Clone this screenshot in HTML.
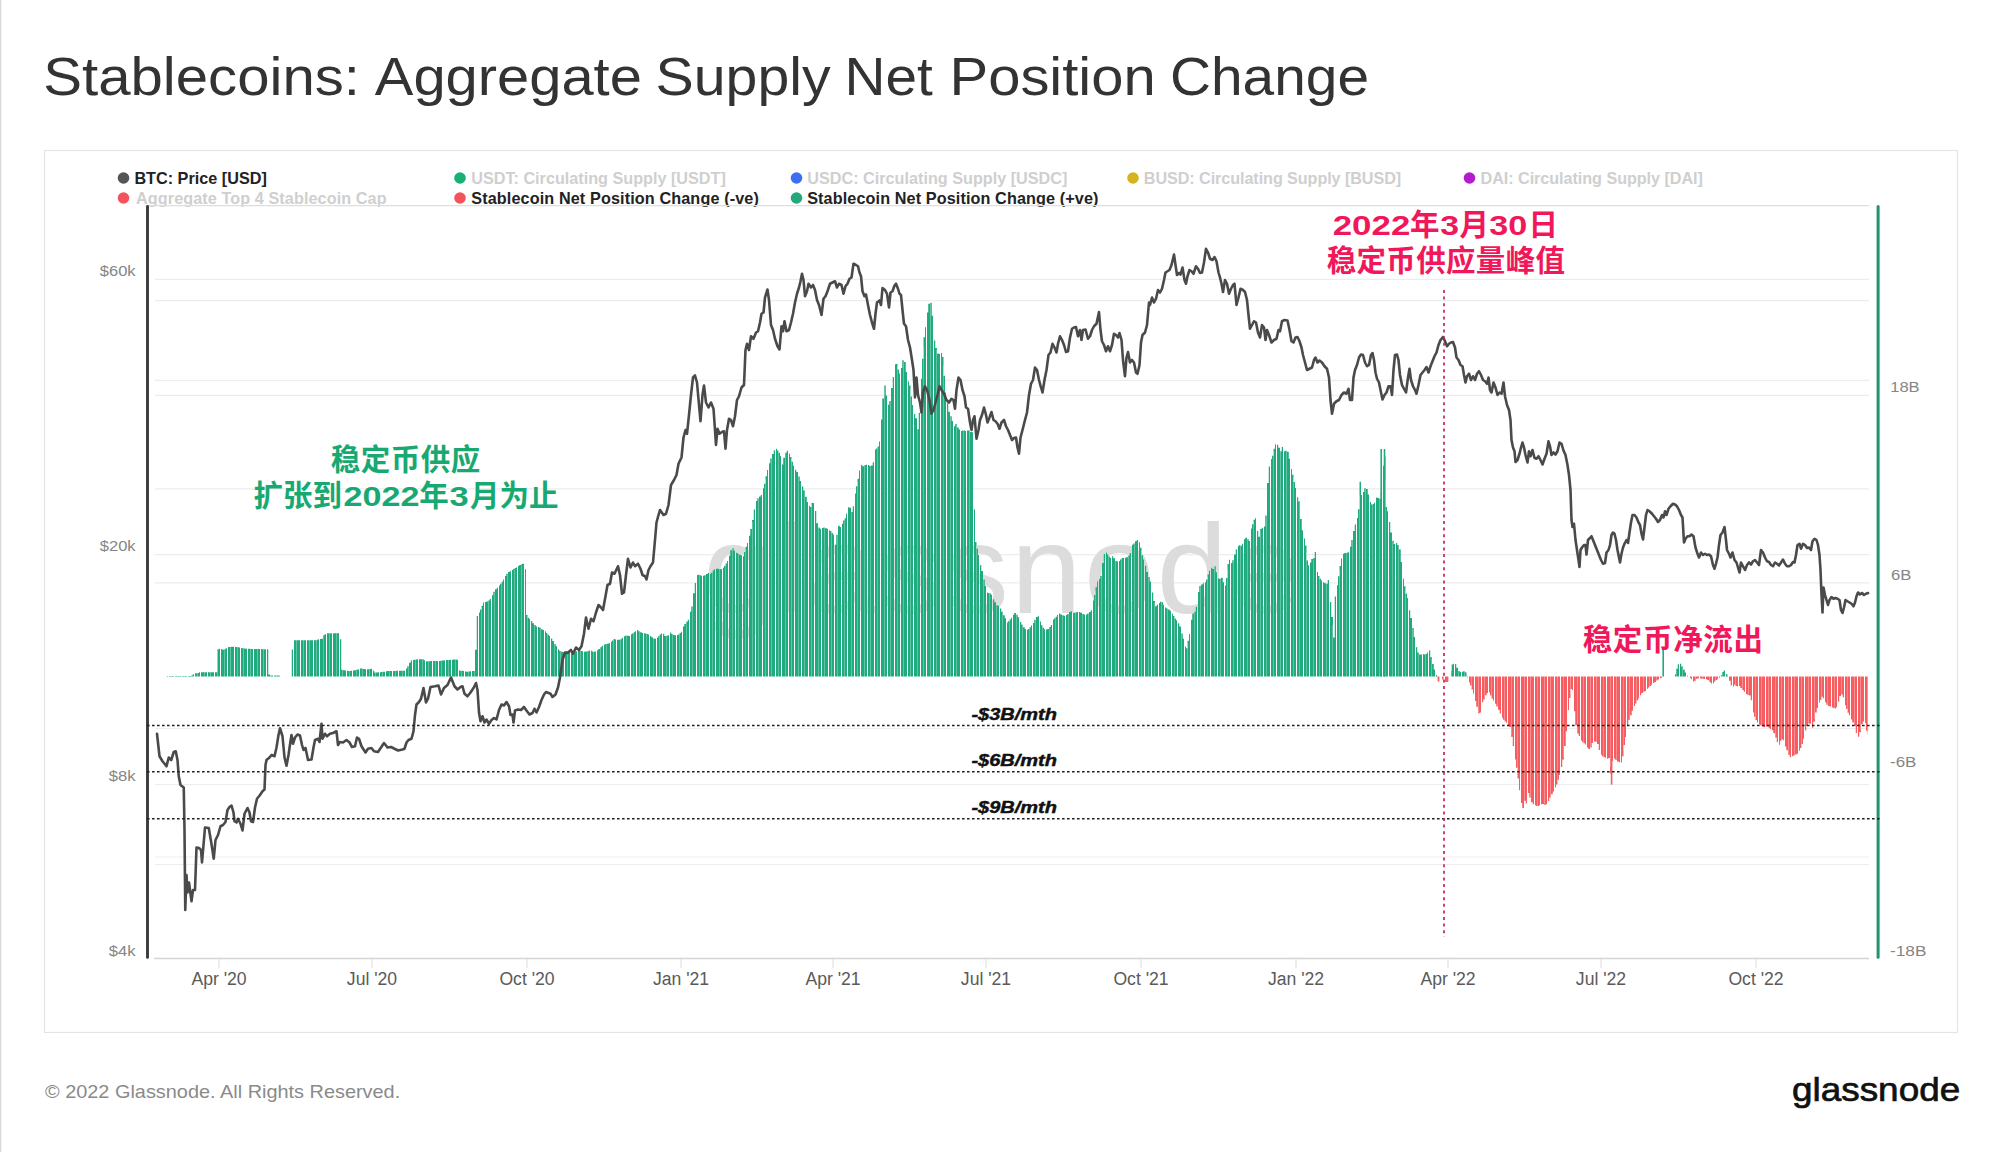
<!DOCTYPE html>
<html lang="en">
<head>
<meta charset="utf-8">
<title>Stablecoins: Aggregate Supply Net Position Change</title>
<style>
html,body{margin:0;padding:0;background:#fff;}
body{width:2000px;height:1152px;position:relative;overflow:hidden;font-family:"Liberation Sans","Noto Sans CJK SC",sans-serif;}
.edge{position:absolute;left:0;top:0;width:2px;height:1152px;background:linear-gradient(90deg,#d9d9d9 0,#d9d9d9 1px,#f1f1f1 1px,#f1f1f1 2px);}
svg.chart{position:absolute;left:0;top:0;}
</style>
</head>
<body>
<div class="edge"></div>
<svg class="chart" width="2000" height="1152" viewBox="0 0 2000 1152" font-family="'Liberation Sans','Noto Sans CJK SC',sans-serif">
<rect x="44.5" y="150.5" width="1913" height="881.9" fill="#fff" stroke="#e3e3e3" stroke-width="1.1"/>
<!-- title -->
<text y="95" font-size="53.5" fill="#333"><tspan x="43.2" textLength="316.8" lengthAdjust="spacingAndGlyphs">Stablecoins:</tspan> <tspan x="374.8" textLength="267.1" lengthAdjust="spacingAndGlyphs">Aggregate</tspan> <tspan x="655.5" textLength="175.1" lengthAdjust="spacingAndGlyphs">Supply</tspan> <tspan x="844.5" textLength="88.2" lengthAdjust="spacingAndGlyphs">Net</tspan> <tspan x="949.5" textLength="206.2" lengthAdjust="spacingAndGlyphs">Position</tspan> <tspan x="1170" textLength="199" lengthAdjust="spacingAndGlyphs">Change</tspan></text>
<!-- legend -->
<g font-size="16.2" font-weight="bold">
<circle cx="123.5" cy="178" r="5.8" fill="#555"/><text x="134.4" y="183.6" fill="#222" textLength="132.4">BTC: Price [USD]</text>
<circle cx="460" cy="178" r="5.8" fill="#17b075"/><text x="471.2" y="183.6" fill="#cfcfcf" textLength="254.6">USDT: Circulating Supply [USDT]</text>
<circle cx="796.5" cy="178" r="5.8" fill="#3e6ff2"/><text x="807.2" y="183.6" fill="#cfcfcf" textLength="260.2">USDC: Circulating Supply [USDC]</text>
<circle cx="1133" cy="178" r="5.8" fill="#d6b41f"/><text x="1143.8" y="183.6" fill="#cfcfcf" textLength="257.4">BUSD: Circulating Supply [BUSD]</text>
<circle cx="1469.5" cy="178" r="5.8" fill="#b41bd0"/><text x="1480.5" y="183.6" fill="#cfcfcf" textLength="222.4">DAI: Circulating Supply [DAI]</text>
<circle cx="123.5" cy="198" r="5.8" fill="#f5535b"/><text x="136" y="203.6" fill="#cfcfcf" textLength="250.6">Aggregate Top 4 Stablecoin Cap</text>
<circle cx="460" cy="198" r="5.8" fill="#f5535b"/><text x="471.2" y="203.6" fill="#222" textLength="287.6">Stablecoin Net Position Change (-ve)</text>
<circle cx="796.5" cy="198" r="5.8" fill="#22a87a"/><text x="807.2" y="203.6" fill="#222" textLength="291.2">Stablecoin Net Position Change (+ve)</text>
</g>
<!-- grid -->
<g stroke="#ededed" stroke-width="1.2" fill="none">
<path d="M147 205.7H1869" stroke="#dedede" stroke-width="1.3"/>
<path d="M155 279.3H1869M155 300.6H1869M155 380.4H1869M155 395.3H1869M155 488.8H1869M155 554.6H1869M155 582.8H1869M155 728.5H1869M155 784.5H1869M155 857H1869M155 864.5H1869"/>
</g>
<path d="M154 958.5H1869" stroke="#d4d4d4" stroke-width="1.3" fill="none"/>
<path d="M219 959v9M372 959v9M527 959v9M681 959v9M833 959v9M986 959v9M1141 959v9M1296 959v9M1448 959v9M1601 959v9M1756 959v9" stroke="#e2e2e2" stroke-width="1.2" fill="none"/>
<!-- watermark -->
<text x="703" y="613" font-size="127" fill="#dcdcdc" letter-spacing="2.3">glassnode</text>
<path fill="#1fab7d" d="M165 676.6L165 676.6L165 676.6L165 676.6L166.75 676.6L166.75 676.1L168 676.1L168 676.6zM169 676.6L169 676.1L170 676.1L170 676.1L171.5 676.1L171.5 676.1L173 676.1L173 676.1L174 676.1L174 676.6zM175 676.6L175 676.1L176.25 676.1L176.25 676.1L178 676.1L178 676.1L179.75 676.1L179.75 676.1L181 676.1L181 676.6zM182 676.6L182 676.1L183 676.1L183 676.1L184.5 676.1L184.5 676.1L186 676.1L186 676.1L187 676.1L187 676.6zM188 676.6L188 676.1L189.25 676.1L189.25 676.1L191 676.1L191 675.5L192.75 675.5L192.75 674.19L194 674.19L194 676.6zM195 676.6L195 673.25L196 673.25L196 673.25L197.5 673.25L197.5 673.07L199 673.07L199 672.2L200 672.2L200 676.6zM201 676.6L201 672.2L202.25 672.2L202.25 672.2L204 672.2L204 672.2L205.75 672.2L205.75 672.2L207 672.2L207 676.6zM208 676.6L208 672.2L209.25 672.2L209.25 672.2L211 672.2L211 672.2L212.75 672.2L212.75 672.2L214 672.2L214 676.6zM215 676.6L215 672.2L216 672.2L216 672.2L217.5 672.2L217.5 649.2L219 649.2L219 648.81L220 648.81L220 676.6zM221 676.6L221 649.06L222.25 649.06L222.25 649.81L224 649.81L224 649.31L225.75 649.31L225.75 648.22L227 648.22L227 676.6zM228 676.6L228 646.97L229.25 646.97L229.25 646.89L231 646.89L231 646.81L232.75 646.81L232.75 646.73L234 646.73L234 676.6zM235 676.6L235 646.9L236 646.9L236 647.07L237.5 647.07L237.5 647.27L239 647.27L239 647.5L240 647.5L240 676.6zM241 676.6L241 647.92L242.25 647.92L242.25 648.22L244 648.22L244 648.45L245.75 648.45L245.75 648.65L247 648.65L247 676.6zM248 676.6L248 648.82L249 648.82L249 648.85L250.5 648.85L250.5 648.88L252 648.88L252 648.91L253 648.91L253 676.6zM254 676.6L254 648.96L255.25 648.96L255.25 648.99L257 648.99L257 649.03L258.75 649.03L258.75 649.06L260 649.06L260 676.6zM261 676.6L261 649.11L262 649.11L262 649.14L263.5 649.14L263.5 649.17L265 649.17L265 649.2L266 649.2L266 676.6zM267 676.6L267 649.25L268.25 649.25L268.25 674.41L270 674.41L270 675.5L271.75 675.5L271.75 675.5L273 675.5L273 676.6zM274 676.6L274 675.5L275.25 675.5L275.25 675.5L277 675.5L277 675.5L278.75 675.5L278.75 675.8L280 675.8L280 676.6zM287 676.6L287 676.6L288.25 676.6L288.25 676.6L290 676.6L290 676.6L291.75 676.6L291.75 649.42L293 649.42L293 676.6zM294 676.6L294 640.25L295.25 640.25L295.25 640.25L297 640.25L297 640.25L298.75 640.25L298.75 640.25L300 640.25L300 676.6zM301 676.6L301 640.25L302 640.25L302 640.25L303.5 640.25L303.5 640.25L305 640.25L305 640.25L306 640.25L306 676.6zM307 676.6L307 640.25L308.25 640.25L308.25 640.25L310 640.25L310 640.25L311.75 640.25L311.75 640.25L313 640.25L313 676.6zM314 676.6L314 640.25L315 640.25L315 640.25L316.5 640.25L316.5 639.72L318 639.72L318 639.15L319 639.15L319 676.6zM320 676.6L320 638.94L321.25 638.94L321.25 638.79L323 638.79L323 635.31L324.75 635.31L324.75 634.17L326 634.17L326 676.6zM327 676.6L327 633.2L328 633.2L328 633.2L329.5 633.2L329.5 633.2L331 633.2L331 633.2L332 633.2L332 676.6zM333 676.6L333 633.2L334.25 633.2L334.25 633.2L336 633.2L336 633.2L337.75 633.2L337.75 633.2L339 633.2L339 676.6zM340 676.6L340 639.3L341.25 639.3L341.25 669.79L343 669.79L343 670.3L344.75 670.3L344.75 670.48L346 670.48L346 676.6zM347 676.6L347 670.75L348 670.75L348 670.91L349.5 670.91L349.5 670.91L351 670.91L351 670.75L352 670.75L352 676.6zM353 676.6L353 670.48L354.25 670.48L354.25 670.3L356 670.3L356 669.8L357.75 669.8L357.75 669.32L359 669.32L359 676.6zM360 676.6L360 668.58L361.25 668.58L361.25 668.47L363 668.47L363 668.93L364.75 668.93L364.75 669.33L366 669.33L366 676.6zM367 676.6L367 669.31L368 669.31L368 669.16L369.5 669.16L369.5 668.97L371 668.97L371 668.81L372 668.81L372 676.6zM373 676.6L373 670.78L374.25 670.78L374.25 672.49L376 672.49L376 672.41L377.75 672.41L377.75 672.33L379 672.33L379 676.6zM380 676.6L380 672.22L381 672.22L381 672.08L382.5 672.08L382.5 671.84L384 671.84L384 671.64L385 671.64L385 676.6zM386 676.6L386 671.3L387.25 671.3L387.25 671.06L389 671.06L389 670.97L390.75 670.97L390.75 670.95L392 670.95L392 676.6zM393 676.6L393 670.91L394 670.91L394 670.89L395.5 670.89L395.5 670.86L397 670.86L397 670.84L398 670.84L398 676.6zM399 676.6L399 670.8L400.25 670.8L400.25 670.77L402 670.77L402 670.74L403.75 670.74L403.75 670.71L405 670.71L405 676.6zM406 676.6L406 668.42L407.25 668.42L407.25 666.25L409 666.25L409 662.75L410.75 662.75L410.75 660.42L412 660.42L412 676.6zM413 676.6L413 660L414 660L414 659.75L415.5 659.75L415.5 659.45L417 659.45L417 659.3L418 659.3L418 676.6zM419 676.6L419 659.3L420.25 659.3L420.25 659.3L422 659.3L422 659.3L423.75 659.3L423.75 660.19L425 660.19L425 676.6zM426 676.6L426 661.23L427.25 661.23L427.25 661.19L429 661.19L429 661.14L430.75 661.14L430.75 661.1L432 661.1L432 676.6zM433 676.6L433 661.05L434 661.05L434 661.01L435.5 661.01L435.5 660.97L437 660.97L437 660.94L438 660.94L438 676.6zM439 676.6L439 660.88L440.25 660.88L440.25 660.73L442 660.73L442 660.51L443.75 660.51L443.75 660.32L445 660.32L445 676.6zM446 676.6L446 660.08L447 660.08L447 660L448.5 660L448.5 659.89L450 659.89L450 659.8L451 659.8L451 676.6zM452 676.6L452 659.65L453.25 659.65L453.25 659.54L455 659.54L455 659.42L456.75 659.42L456.75 659.8L458 659.8L458 676.6zM459 676.6L459 670.49L460 670.49L460 670.71L461.5 670.71L461.5 670.81L463 670.81L463 670.9L464 670.9L464 676.6zM465 676.6L465 671.41L466.25 671.41L466.25 671.82L468 671.82L468 671.55L469.75 671.55L469.75 671.35L471 671.35L471 676.6zM472 676.6L472 671.12L473.25 671.12L473.25 670.97L475 670.97L475 649.76L476.75 649.76L476.75 615.95L478 615.95L478 676.6zM479 676.6L479 612.5L480 612.5L480 609.58L481.5 609.58L481.5 605.76L483 605.76L483 602.43L484 602.43L484 676.6zM485 676.6L485 602L486.25 602L486.25 601.51L488 601.51L488 600.46L489.75 600.46L489.75 598.96L491 598.96L491 676.6zM492 676.6L492 595.14L493.25 595.14L493.25 591.71L495 591.71L495 589.37L496.75 589.37L496.75 587.73L498 587.73L498 676.6zM499 676.6L499 585.54L500 585.54L500 583.87L501.5 583.87L501.5 581.65L503 581.65L503 579.56L504 579.56L504 676.6zM505 676.6L505 576.02L506.25 576.02L506.25 573.87L508 573.87L508 572L509.75 572L509.75 571.25L511 571.25L511 676.6zM512 676.6L512 569.9L513 569.9L513 568.96L514.5 568.96L514.5 568.07L516 568.07L516 567.44L517 567.44L517 676.6zM518 676.6L518 566.05L519.25 566.05L519.25 564.93L521 564.93L521 564.05L522.75 564.05L522.75 563.72L524 563.72L524 676.6zM525 676.6L525 569.2L526 569.2L526 615.04L527.5 615.04L527.5 617.8L529 617.8L529 618.69L530 618.69L530 676.6zM531 676.6L531 620.89L532.25 620.89L532.25 623.37L534 623.37L534 625.12L535.75 625.12L535.75 626.41L537 626.41L537 676.6zM538 676.6L538 626.97L539.25 626.97L539.25 627.86L541 627.86L541 629.17L542.75 629.17L542.75 629.98L544 629.98L544 676.6zM545 676.6L545 631.33L546 631.33L546 632.9L547.5 632.9L547.5 634.74L549 634.74L549 635.99L550 635.99L550 676.6zM551 676.6L551 638.5L552.25 638.5L552.25 641.12L554 641.12L554 643.99L555.75 643.99L555.75 646.24L557 646.24L557 676.6zM558 676.6L558 649.24L559.25 649.24L559.25 651.11L561 651.11L561 651.81L562.75 651.81L562.75 652.25L564 652.25L564 676.6zM565 676.6L565 651.68L566 651.68L566 651.35L567.5 651.35L567.5 650.96L569 650.96L569 650.64L570 650.64L570 676.6zM571 676.6L571 650.86L572.25 650.86L572.25 651.61L574 651.61L574 651.55L575.75 651.55L575.75 651.18L577 651.18L577 676.6zM578 676.6L578 650.65L579 650.65L579 650.4L580.5 650.4L580.5 650.9L582 650.9L582 651.31L583 651.31L583 676.6zM584 676.6L584 651.78L585.25 651.78L585.25 651.53L587 651.53L587 651.24L588.75 651.24L588.75 650.6L590 650.6L590 676.6zM591 676.6L591 650.87L592 650.87L592 651.62L593.5 651.62L593.5 651.7L595 651.7L595 651.51L596 651.51L596 676.6zM597 676.6L597 650.16L598.25 650.16L598.25 648.89L600 648.89L600 647.14L601.75 647.14L601.75 645.75L603 645.75L603 676.6zM604 676.6L604 644.62L605.25 644.62L605.25 644.11L607 644.11L607 643.68L608.75 643.68L608.75 643L610 643L610 676.6zM611 676.6L611 641.77L612 641.77L612 640.52L613.5 640.52L613.5 639.12L615 639.12L615 639.43L616 639.43L616 676.6zM617 676.6L617 639.85L618.25 639.85L618.25 639.85L620 639.85L620 639.16L621.75 639.16L621.75 637.66L623 637.66L623 676.6zM624 676.6L624 636.13L625.25 636.13L625.25 635.38L627 635.38L627 635.77L628.75 635.77L628.75 635.96L630 635.96L630 676.6zM631 676.6L631 634.36L632 634.36L632 633.43L633.5 633.43L633.5 632.3L635 632.3L635 631.35L636 631.35L636 676.6zM637 676.6L637 629.93L638.25 629.93L638.25 631.13L640 631.13L640 632.18L641.75 632.18L641.75 632.93L643 632.93L643 676.6zM644 676.6L644 633.27L645 633.27L645 633.41L646.5 633.41L646.5 634.01L648 634.01L648 634.51L649 634.51L649 676.6zM650 676.6L650 636.03L651.25 636.03L651.25 637.16L653 637.16L653 638.47L654.75 638.47L654.75 638.77L656 638.77L656 676.6zM657 676.6L657 637.71L658 637.71L658 636.31L659.5 636.31L659.5 634.43L661 634.43L661 633.48L662 633.48L662 676.6zM663 676.6L663 633.75L664.25 633.75L664.25 635.95L666 635.95L666 635.68L667.75 635.68L667.75 635.15L669 635.15L669 676.6zM670 676.6L670 632.49L671.25 632.49L671.25 633.99L673 633.99L673 634.88L674.75 634.88L674.75 635.26L676 635.26L676 676.6zM677 676.6L677 634.9L678 634.9L678 634.58L679.5 634.58L679.5 633.08L681 633.08L681 631.83L682 631.83L682 676.6zM683 676.6L683 626.57L684.25 626.57L684.25 624.08L686 624.08L686 621.74L687.75 621.74L687.75 619.74L689 619.74L689 676.6zM690 676.6L690 611.78L691.25 611.78L691.25 606.51L693 606.51L693 593.21L694.75 593.21L694.75 582.99L696 582.99L696 676.6zM697 676.6L697 575.11L698 575.11L698 574.63L699.5 574.63L699.5 575.16L701 575.16L701 575.78L702 575.78L702 676.6zM703 676.6L703 575.63L704.25 575.63L704.25 575.2L706 575.2L706 573.89L707.75 573.89L707.75 573.12L709 573.12L709 676.6zM710 676.6L710 573.65L711 573.65L711 572.69L712.5 572.69L712.5 570.44L714 570.44L714 569.16L715 569.16L715 676.6zM716 676.6L716 568.63L717.25 568.63L717.25 568.8L719 568.8L719 569.24L720.75 569.24L720.75 568.94L722 568.94L722 676.6zM723 676.6L723 567.83L724 567.83L724 565.95L725.5 565.95L725.5 563.6L727 563.6L727 561.1L728 561.1L728 676.6zM729 676.6L729 555.82L730.25 555.82L730.25 550.2L732 550.2L732 548.21L733.75 548.21L733.75 550.84L735 550.84L735 676.6zM736 676.6L736 552.8L737.25 552.8L737.25 553.55L739 553.55L739 554.43L740.75 554.43L740.75 555.18L742 555.18L742 676.6zM743 676.6L743 556.25L744 556.25L744 551.88L745.5 551.88L745.5 546.77L747 546.77L747 543.12L748 543.12L748 676.6zM749 676.6L749 535.85L750.25 535.85L750.25 528.88L752 528.88L752 519.88L753.75 519.88L753.75 509.38L755 509.38L755 676.6zM756 676.6L756 500.94L757.25 500.94L757.25 498.16L759 498.16L759 496.52L760.75 496.52L760.75 495.12L762 495.12L762 676.6zM763 676.6L763 488.33L764 488.33L764 483.75L765.5 483.75L765.5 476.25L767 476.25L767 470L768 470L768 676.6zM769 676.6L769 463.17L770.25 463.17L770.25 458.44L772 458.44L772 454.06L773.75 454.06L773.75 450.31L775 450.31L775 676.6zM776 676.6L776 448.75L777 448.75L777 450.54L778.5 450.54L778.5 452.68L780 452.68L780 456L781 456L781 676.6zM782 676.6L782 464.44L783.25 464.44L783.25 457.69L785 457.69L785 452.66L786.75 452.66L786.75 450.78L788 450.78L788 676.6zM789 676.6L789 453.75L790 453.75L790 456.88L791.5 456.88L791.5 461.67L793 461.67L793 465.83L794 465.83L794 676.6zM795 676.6L795 469.82L796.25 469.82L796.25 471.96L798 471.96L798 476.51L799.75 476.51L799.75 480.89L801 480.89L801 676.6zM802 676.6L802 486.56L803.25 486.56L803.25 490.45L805 490.45L805 496.7L806.75 496.7L806.75 502.05L808 502.05L808 676.6zM809 676.6L809 505.83L810 505.83L810 506.88L811.5 506.88L811.5 503.12L813 503.12L813 503L814 503L814 676.6zM815 676.6L815 511.02L816.25 511.02L816.25 523.2L818 523.2L818 527.62L819.75 527.62L819.75 528.63L821 528.63L821 676.6zM822 676.6L822 527.93L823.25 527.93L823.25 527.54L825 527.54L825 528.17L826.75 528.17L826.75 528.71L828 528.71L828 676.6zM829 676.6L829 530.18L830 530.18L830 531.07L831.5 531.07L831.5 533.04L833 533.04L833 534.82L834 534.82L834 676.6zM835 676.6L835 544.69L836.25 544.69L836.25 534.84L838 534.84L838 525.73L839.75 525.73L839.75 526.98L841 526.98L841 676.6zM842 676.6L842 523.75L843 523.75L843 520.62L844.5 520.62L844.5 518.33L846 518.33L846 513.5L847 513.5L847 676.6zM848 676.6L848 507.19L849.25 507.19L849.25 507.73L851 507.73L851 512.25L852.75 512.25L852.75 506.25L854 506.25L854 676.6zM855 676.6L855 493.44L856 493.44L856 486.25L857.5 486.25L857.5 478.75L859 478.75L859 470.62L860 470.62L860 676.6zM861 676.6L861 464.88L862.25 464.88L862.25 466.19L864 466.19L864 465.31L865.75 465.31L865.75 464.82L867 464.82L867 676.6zM868 676.6L868 464.94L869.25 464.94L869.25 465.99L871 465.99L871 465.56L872.75 465.56L872.75 462.19L874 462.19L874 676.6zM875 676.6L875 449.58L876 449.58L876 448.54L877.5 448.54L877.5 446.5L879 446.5L879 441.5L880 441.5L880 676.6zM881 676.6L881 419.59L882.25 419.59L882.25 398.58L884 398.58L884 385.48L885.75 385.48L885.75 395.42L887 395.42L887 676.6zM888 676.6L888 404.69L889.25 404.69L889.25 400.94L891 400.94L891 387.97L892.75 387.97L892.75 377.03L894 377.03L894 676.6zM895 676.6L895 364.17L896 364.17L896 364.06L897.5 364.06L897.5 369.53L899 369.53L899 373.44L900 373.44L900 676.6zM901 676.6L901 367.89L902.25 367.89L902.25 360.34L904 360.34L904 361.98L905.75 361.98L905.75 371.88L907 371.88L907 676.6zM908 676.6L908 381.56L909 381.56L909 385.47L910.5 385.47L910.5 396.41L912 396.41L912 405L913 405L913 676.6zM914 676.6L914 414.06L915.25 414.06L915.25 418.28L917 418.28L917 429.22L918.75 429.22L918.75 412.81L920 412.81L920 676.6zM921 676.6L921 378.75L922 378.75L922 358.75L923.5 358.75L923.5 337.25L925 337.25L925 327.17L926 327.17L926 676.6zM927 676.6L927 312.5L928.25 312.5L928.25 303.75L930 303.75L930 302.84L931.75 302.84L931.75 315.83L933 315.83L933 676.6zM934 676.6L934 340.62L935.25 340.62L935.25 348.12L937 348.12L937 353.44L938.75 353.44L938.75 353.91L940 353.91L940 676.6zM941 676.6L941 353.12L942 353.12L942 356.88L943.5 356.88L943.5 375.83L945 375.83L945 392.5L946 392.5L946 676.6zM947 676.6L947 403.2L948.25 403.2L948.25 411.64L950 411.64L950 416.33L951.75 416.33L951.75 421L953 421L953 676.6zM954 676.6L954 426.33L955.25 426.33L955.25 424L957 424L957 427.5L958.75 427.5L958.75 429.62L960 429.62L960 676.6zM961 676.6L961 431L962 431L962 430.38L963.5 430.38L963.5 430.38L965 430.38L965 431L966 431L966 676.6zM967 676.6L967 430.44L968.25 430.44L968.25 430.5L970 430.5L970 431.9L971.75 431.9L971.75 432.34L973 432.34L973 676.6zM974 676.6L974 509.23L975 509.23L975 542.05L976.5 542.05L976.5 548.86L978 548.86L978 555L979 555L979 676.6zM980 676.6L980 565L981.25 565L981.25 571L983 571L983 579.38L984.75 579.38L984.75 586.12L986 586.12L986 676.6zM987 676.6L987 592.5L988 592.5L988 592.95L989.5 592.95L989.5 593.48L991 593.48L991 594.79L992 594.79L992 676.6zM993 676.6L993 599.22L994.25 599.22L994.25 602.25L996 602.25L996 605.16L997.75 605.16L997.75 605.78L999 605.78L999 676.6zM1000 676.6L1000 608.59L1001.25 608.59L1001.25 611.72L1003 611.72L1003 615.25L1004.75 615.25L1004.75 618.25L1006 618.25L1006 676.6zM1007 676.6L1007 622.5L1008 622.5L1008 621.25L1009.5 621.25L1009.5 619.62L1011 619.62L1011 617.75L1012 617.75L1012 676.6zM1013 676.6L1013 614.84L1014.25 614.84L1014.25 612.97L1016 612.97L1016 614.79L1017.75 614.79L1017.75 617.29L1019 617.29L1019 676.6zM1020 676.6L1020 621.93L1021.25 621.93L1021.25 624.64L1023 624.64L1023 627.14L1024.75 627.14L1024.75 628.91L1026 628.91L1026 676.6zM1027 676.6L1027 629.79L1028 629.79L1028 629.06L1029.5 629.06L1029.5 627.19L1031 627.19L1031 625.62L1032 625.62L1032 676.6zM1033 676.6L1033 622.97L1034.25 622.97L1034.25 619.69L1036 619.69L1036 617.06L1037.75 617.06L1037.75 616.31L1039 616.31L1039 676.6zM1040 676.6L1040 621.5L1041 621.5L1041 625.25L1042.5 625.25L1042.5 627.67L1044 627.67L1044 629.33L1045 629.33L1045 676.6zM1046 676.6L1046 629.46L1047.25 629.46L1047.25 628.88L1049 628.88L1049 627.12L1050.75 627.12L1050.75 624.88L1052 624.88L1052 676.6zM1053 676.6L1053 619.5L1054 619.5L1054 618.25L1055.5 618.25L1055.5 616.67L1057 616.67L1057 615L1058 615L1058 676.6zM1059 676.6L1059 613.42L1060.25 613.42L1060.25 614.42L1062 614.42L1062 615.29L1063.75 615.29L1063.75 615.79L1065 615.79L1065 676.6zM1066 676.6L1066 614.92L1067.25 614.92L1067.25 613.88L1069 613.88L1069 612.12L1070.75 612.12L1070.75 611.25L1072 611.25L1072 676.6zM1073 676.6L1073 612.67L1074 612.67L1074 612.75L1075.5 612.75L1075.5 612.25L1077 612.25L1077 612L1078 612L1078 676.6zM1079 676.6L1079 612L1080.25 612L1080.25 612.75L1082 612.75L1082 613.92L1083.75 613.92L1083.75 614.46L1085 614.46L1085 676.6zM1086 676.6L1086 614.58L1087.25 614.58L1087.25 613.58L1089 613.58L1089 611.99L1090.75 611.99L1090.75 610.26L1092 610.26L1092 676.6zM1093 676.6L1093 600.5L1094 600.5L1094 594.97L1095.5 594.97L1095.5 587.23L1097 587.23L1097 581.62L1098 581.62L1098 676.6zM1099 676.6L1099 578.95L1100.25 578.95L1100.25 575.95L1102 575.95L1102 562.89L1103.75 562.89L1103.75 554.06L1105 554.06L1105 676.6zM1106 676.6L1106 552.5L1107 552.5L1107 554.58L1108.5 554.58L1108.5 556.56L1110 556.56L1110 557.92L1111 557.92L1111 676.6zM1112 676.6L1112 556.15L1113.25 556.15L1113.25 558.37L1115 558.37L1115 561.09L1116.75 561.09L1116.75 561.55L1118 561.55L1118 676.6zM1119 676.6L1119 561.12L1120 561.12L1120 559.56L1121.5 559.56L1121.5 558L1123 558L1123 558L1124 558L1124 676.6zM1125 676.6L1125 557.85L1126.25 557.85L1126.25 557.31L1128 557.31L1128 555.54L1129.75 555.54L1129.75 553.04L1131 553.04L1131 676.6zM1132 676.6L1132 544.81L1133.25 544.81L1133.25 543.56L1135 543.56L1135 541.17L1136.75 541.17L1136.75 539.94L1138 539.94L1138 676.6zM1139 676.6L1139 542.31L1140 542.31L1140 547.78L1141.5 547.78L1141.5 555.25L1143 555.25L1143 559.4L1144 559.4L1144 676.6zM1145 676.6L1145 565.71L1146.25 565.71L1146.25 571.95L1148 571.95L1148 577.05L1149.75 577.05L1149.75 581.52L1151 581.52L1151 676.6zM1152 676.6L1152 592.55L1153.25 592.55L1153.25 601.09L1155 601.09L1155 606.33L1156.75 606.33L1156.75 604.85L1158 604.85L1158 676.6zM1159 676.6L1159 603.08L1160 603.08L1160 601.85L1161.5 601.85L1161.5 602.3L1163 602.3L1163 604.8L1164 604.8L1164 676.6zM1165 676.6L1165 607.53L1166.25 607.53L1166.25 608.47L1168 608.47L1168 609.4L1169.75 609.4L1169.75 610.65L1171 610.65L1171 676.6zM1172 676.6L1172 613.83L1173 613.83L1173 615.92L1174.5 615.92L1174.5 618.42L1176 618.42L1176 620.13L1177 620.13L1177 676.6zM1178 676.6L1178 623.25L1179.25 623.25L1179.25 626.5L1181 626.5L1181 633.5L1182.75 633.5L1182.75 638.81L1184 638.81L1184 676.6zM1185 676.6L1185 646.62L1186 646.62L1186 648.25L1187.5 648.25L1187.5 640.75L1189 640.75L1189 633.95L1190 633.95L1190 676.6zM1191 676.6L1191 619.81L1192.25 619.81L1192.25 613.4L1194 613.4L1194 611.75L1195.75 611.75L1195.75 606.75L1197 606.75L1197 676.6zM1198 676.6L1198 591.89L1199.25 591.89L1199.25 586.08L1201 586.08L1201 584.44L1202.75 584.44L1202.75 583.19L1204 583.19L1204 676.6zM1205 676.6L1205 582.21L1206 582.21L1206 579.5L1207.5 579.5L1207.5 574.5L1209 574.5L1209 570.79L1210 570.79L1210 676.6zM1211 676.6L1211 567.69L1212.25 567.69L1212.25 568.94L1214 568.94L1214 566.3L1215.75 566.3L1215.75 572.3L1217 572.3L1217 676.6zM1218 676.6L1218 578.56L1219.25 578.56L1219.25 578.84L1221 578.84L1221 577.83L1222.75 577.83L1222.75 582.33L1224 582.33L1224 676.6zM1225 676.6L1225 585.38L1226 585.38L1226 578.12L1227.5 578.12L1227.5 564.12L1229 564.12L1229 559.75L1230 559.75L1230 676.6zM1231 676.6L1231 562.88L1232.25 562.88L1232.25 560.25L1234 560.25L1234 554.42L1235.75 554.42L1235.75 549.42L1237 549.42L1237 676.6zM1238 676.6L1238 545.88L1239 545.88L1239 545.23L1240.5 545.23L1240.5 545.85L1242 545.85L1242 543.75L1243 543.75L1243 676.6zM1244 676.6L1244 539.33L1245.25 539.33L1245.25 537.72L1247 537.72L1247 539.24L1248.75 539.24L1248.75 540.98L1250 540.98L1250 676.6zM1251 676.6L1251 528.58L1252 528.58L1252 524.17L1253.5 524.17L1253.5 519.69L1255 519.69L1255 518.13L1256 518.13L1256 676.6zM1257 676.6L1257 531.09L1258.25 531.09L1258.25 536.68L1260 536.68L1260 528.94L1261.75 528.94L1261.75 527.69L1263 527.69L1263 676.6zM1264 676.6L1264 526.41L1265.25 526.41L1265.25 515.5L1267 515.5L1267 482.97L1268.75 482.97L1268.75 466.47L1270 466.47L1270 676.6zM1271 676.6L1271 458.97L1272 458.97L1272 455.66L1273.5 455.66L1273.5 448.75L1275 448.75L1275 444.17L1276 444.17L1276 676.6zM1277 676.6L1277 444.75L1278.25 444.75L1278.25 447.75L1280 447.75L1280 451.25L1281.75 451.25L1281.75 447.03L1283 447.03L1283 676.6zM1284 676.6L1284 451.25L1285.25 451.25L1285.25 450.78L1287 450.78L1287 451.66L1288.75 451.66L1288.75 458.79L1290 458.79L1290 676.6zM1291 676.6L1291 468.9L1292 468.9L1292 474.84L1293.5 474.84L1293.5 481.97L1295 481.97L1295 487.92L1296 487.92L1296 676.6zM1297 676.6L1297 497.24L1298.25 497.24L1298.25 501.61L1300 501.61L1300 518.94L1301.75 518.94L1301.75 530.33L1303 530.33L1303 676.6zM1304 676.6L1304 538.5L1305 538.5L1305 545.5L1306.5 545.5L1306.5 560.5L1308 560.5L1308 565.35L1309 565.35L1309 676.6zM1310 676.6L1310 562.39L1311.25 562.39L1311.25 558.98L1313 558.98L1313 558.19L1314.75 558.19L1314.75 551.94L1316 551.94L1316 676.6zM1317 676.6L1317 571.9L1318 571.9L1318 575.88L1319.5 575.88L1319.5 578.81L1321 578.81L1321 580.38L1322 580.38L1322 676.6zM1323 676.6L1323 582.35L1324.25 582.35L1324.25 583.3L1326 583.3L1326 583.81L1327.75 583.81L1327.75 580.06L1329 580.06L1329 676.6zM1330 676.6L1330 601.97L1331.25 601.97L1331.25 616.92L1333 616.92L1333 637.5L1334.75 637.5L1334.75 596.62L1336 596.62L1336 676.6zM1337 676.6L1337 585.15L1338 585.15L1338 576.37L1339.5 576.37L1339.5 566.1L1341 566.1L1341 558.6L1342 558.6L1342 676.6zM1343 676.6L1343 553.78L1344.25 553.78L1344.25 553L1346 553L1346 552.8L1347.75 552.8L1347.75 552.18L1349 552.18L1349 676.6zM1350 676.6L1350 546.68L1351.25 546.68L1351.25 539.91L1353 539.91L1353 530.96L1354.75 530.96L1354.75 524.56L1356 524.56L1356 676.6zM1357 676.6L1357 517.9L1358 517.9L1358 509.15L1359.5 509.15L1359.5 481.66L1361 481.66L1361 494.94L1362 494.94L1362 676.6zM1363 676.6L1363 491.94L1364.25 491.94L1364.25 488.19L1366 488.19L1366 489.06L1367.75 489.06L1367.75 494.5L1369 494.5L1369 676.6zM1370 676.6L1370 502L1371 502L1371 504.5L1372.5 504.5L1372.5 503.96L1374 503.96L1374 502.75L1375 502.75L1375 676.6zM1376 676.6L1376 497.44L1377.25 497.44L1377.25 498.1L1379 498.1L1379 498.66L1380.75 498.66L1380.75 491.44L1382 491.44L1382 676.6zM1383 676.6L1383 465.63L1384 465.63L1384 456.44L1385.5 456.44L1385.5 506.88L1387 506.88L1387 511.25L1388 511.25L1388 676.6zM1389 676.6L1389 521.94L1390.25 521.94L1390.25 532.44L1392 532.44L1392 540.82L1393.75 540.82L1393.75 543.95L1395 543.95L1395 676.6zM1396 676.6L1396 543.07L1397.25 543.07L1397.25 544.99L1399 544.99L1399 549.58L1400.75 549.58L1400.75 562.03L1402 562.03L1402 676.6zM1403 676.6L1403 578.75L1404 578.75L1404 586.25L1405.5 586.25L1405.5 593.44L1407 593.44L1407 598.12L1408 598.12L1408 676.6zM1409 676.6L1409 610.16L1410.25 610.16L1410.25 618.12L1412 618.12L1412 627.97L1413.75 627.97L1413.75 636.88L1415 636.88L1415 676.6zM1416 676.6L1416 647.34L1417.25 647.34L1417.25 652.62L1419 652.62L1419 654.38L1420.75 654.38L1420.75 654.56L1422 654.56L1422 676.6zM1423 676.6L1423 654L1424 654L1424 654.62L1425.5 654.62L1425.5 654.06L1427 654.06L1427 652.5L1428 652.5L1428 676.6zM1429 676.6L1429 650.62L1430.25 650.62L1430.25 657.34L1432 657.34L1432 663.91L1433.75 663.91L1433.75 669.53L1435 669.53L1435 676.6zM1436 676.6L1436 675L1437 675L1437 676.12L1437.5 676.12L1437.5 676.6z"/><path fill="#fff" fill-opacity="0.3" d="M171 675.6h1v1.5h-1zM177 675.6h1v1.5h-1zM184 675.6h1v1.5h-1zM191 675h1v2.1h-1zM197 672.75h1v4.35h-1zM204 671.7h1v5.4h-1zM210 671.7h1v5.4h-1zM217 671.7h1v5.4h-1zM224 649h1v28.1h-1zM230 646.37h1v30.73h-1zM237 646.67h1v30.43h-1zM243 647.77h1v29.33h-1zM250 648.37h1v28.73h-1zM257 648.52h1v28.58h-1zM263 648.66h1v28.44h-1zM270 675h1v2.1h-1zM276 675h1v2.1h-1zM296 639.75h1v37.35h-1zM303 639.75h1v37.35h-1zM309 639.75h1v37.35h-1zM316 639.75h1v37.35h-1zM323 635.75h1v41.35h-1zM329 632.7h1v44.4h-1zM336 632.7h1v44.4h-1zM342 669.42h1v7.68h-1zM349 670.5h1v6.6h-1zM356 669.42h1v7.68h-1zM362 668.07h1v9.03h-1zM369 668.56h1v8.54h-1zM375 671.97h1v5.13h-1zM382 671.46h1v5.64h-1zM389 670.48h1v6.62h-1zM395 670.37h1v6.73h-1zM402 670.25h1v6.85h-1zM408 665h1v12.1h-1zM415 659.1h1v18h-1zM422 658.8h1v18.3h-1zM428 660.68h1v16.42h-1zM435 660.49h1v16.61h-1zM441 660.18h1v16.92h-1zM448 659.44h1v17.66h-1zM455 658.94h1v18.16h-1zM461 670.26h1v6.84h-1zM468 671.11h1v5.99h-1zM474 670.43h1v6.67h-1zM481 607.26h1v69.84h-1zM488 600.19h1v76.91h-1zM494 590.71h1v86.39h-1zM501 582.37h1v94.73h-1zM507 572.87h1v104.23h-1zM514 567.94h1v109.16h-1zM521 563.73h1v113.37h-1zM527 616.67h1v60.43h-1zM534 624.24h1v52.86h-1zM540 627.64h1v49.46h-1zM547 633.33h1v43.77h-1zM554 642.93h1v34.17h-1zM560 650.76h1v26.34h-1zM567 650.65h1v26.45h-1zM573 651.3h1v25.8h-1zM580 650.15h1v26.95h-1zM587 650.8h1v26.3h-1zM593 651.31h1v25.79h-1zM600 647.02h1v30.08h-1zM606 643.52h1v33.58h-1zM613 639.27h1v37.83h-1zM620 639.03h1v38.07h-1zM626 634.92h1v42.18h-1zM633 632.36h1v44.74h-1zM639 630.93h1v46.17h-1zM646 633.21h1v43.89h-1zM653 637.69h1v39.41h-1zM659 634.87h1v42.23h-1zM666 635.28h1v41.82h-1zM672 633.86h1v43.24h-1zM679 633.33h1v43.77h-1zM686 621.74h1v55.36h-1zM692 603.58h1v73.52h-1zM699 574.28h1v102.82h-1zM705 574.42h1v102.68h-1zM712 571.07h1v106.03h-1zM719 568.65h1v108.45h-1zM725 564.33h1v112.77h-1zM732 547.06h1v130.04h-1zM738 553.24h1v123.86h-1zM745 548.75h1v128.35h-1zM752 522h1v155.1h-1zM758 497.31h1v179.79h-1zM765 479.5h1v197.6h-1zM771 457h1v220.1h-1zM778 451.11h1v225.99h-1zM785 452.62h1v224.48h-1zM791 458.67h1v218.43h-1zM798 474.92h1v202.18h-1zM804 491.29h1v185.81h-1zM811 504.5h1v172.6h-1zM818 526.75h1v150.35h-1zM824 527.18h1v149.92h-1zM831 531.46h1v145.64h-1zM837 530.12h1v146.98h-1zM844 518.83h1v158.27h-1zM851 513.25h1v163.85h-1zM857 482h1v195.1h-1zM864 465h1v212.1h-1zM870 465.75h1v211.35h-1zM877 447.42h1v229.68h-1zM884 382.5h1v294.6h-1zM890 399.5h1v277.6h-1zM897 366.38h1v310.73h-1zM903 357.88h1v319.23h-1zM910 389.81h1v287.29h-1zM917 426.38h1v250.73h-1zM923 347h1v330.1h-1zM930 302.25h1v374.85h-1zM936 349.5h1v327.6h-1zM943 365.75h1v311.35h-1zM950 415.12h1v261.98h-1zM956 424.25h1v252.85h-1zM963 429.5h1v247.6h-1zM969 430.3h1v246.8h-1zM976 544.95h1v132.15h-1zM983 577h1v100.1h-1zM989 592.71h1v84.39h-1zM996 604.5h1v72.6h-1zM1002 612h1v65.1h-1zM1009 620h1v57.1h-1zM1016 613.67h1v63.43h-1zM1022 624.68h1v52.42h-1zM1029 627.62h1v49.48h-1zM1035 618.25h1v58.85h-1zM1042 626.17h1v50.93h-1zM1049 627h1v50.1h-1zM1055 617h1v60.1h-1zM1062 614.67h1v62.43h-1zM1068 613h1v64.1h-1zM1075 612h1v65.1h-1zM1082 613.17h1v63.93h-1zM1088 612.83h1v64.27h-1zM1095 590.85h1v86.25h-1zM1101 574.7h1v102.4h-1zM1108 555.12h1v121.98h-1zM1115 560.32h1v116.78h-1zM1121 558.12h1v118.98h-1zM1128 555.67h1v121.43h-1zM1134 542.75h1v134.35h-1zM1141 551h1v126.1h-1zM1148 575.46h1v101.64h-1zM1154 602.65h1v74.45h-1zM1161 600.6h1v76.5h-1zM1167 608.12h1v68.98h-1zM1174 616.67h1v60.43h-1zM1181 631.5h1v45.6h-1zM1187 644h1v33.1h-1zM1194 611.75h1v65.35h-1zM1200 585.2h1v91.9h-1zM1207 576.5h1v100.6h-1zM1214 566.06h1v111.04h-1zM1220 577.88h1v99.23h-1zM1227 569.75h1v107.35h-1zM1233 558.5h1v118.6h-1zM1240 545.04h1v132.06h-1zM1247 537.96h1v139.14h-1zM1253 521.17h1v155.93h-1zM1260 529.87h1v147.23h-1zM1266 507.5h1v169.6h-1zM1273 452h1v225.1h-1zM1280 450h1v227.1h-1zM1286 448.88h1v228.23h-1zM1293 477.91h1v199.19h-1zM1299 502.21h1v174.89h-1zM1306 552.5h1v124.6h-1zM1313 559.25h1v117.85h-1zM1319 577.25h1v99.85h-1zM1326 583.38h1v93.73h-1zM1332 625.17h1v51.93h-1zM1339 570.25h1v106.85h-1zM1346 552.46h1v124.64h-1zM1352 537.35h1v139.75h-1zM1359 495.38h1v181.72h-1zM1365 486.75h1v190.35h-1zM1372 504.08h1v173.02h-1zM1379 498.35h1v178.75h-1zM1385 480.5h1v196.6h-1zM1392 539.54h1v137.56h-1zM1398 545.05h1v132.05h-1zM1405 589.5h1v87.6h-1zM1412 625.12h1v51.98h-1zM1418 652.5h1v24.6h-1zM1425 654.5h1v22.6h-1zM1431 658.25h1v18.85h-1z"/>
<path fill="#1fab7d" d="M1451 676.6L1451 670.75L1451.5 670.75L1451.5 664.53L1453 664.53L1453 663.75L1454 663.75L1454 676.6zM1455 676.6L1455 664.06L1456.25 664.06L1456.25 667.73L1458 667.73L1458 671.02L1459.75 671.02L1459.75 672.11L1461 672.11L1461 676.6zM1462 676.6L1462 671.82L1463.25 671.82L1463.25 671.33L1465 671.33L1465 672.34L1466.5 672.34L1466.5 676.6z"/><path fill="#fff" fill-opacity="0.3" d="M1451 664.5h1v12.6h-1zM1458 669.81h1v7.29h-1zM1464 671.06h1v6.04h-1z"/>
<path fill="#1fab7d" d="M1675 676.6L1675 674.33L1676 674.33L1676 668.83L1677.75 668.83L1677.75 664.14L1679 664.14L1679 676.6zM1680 676.6L1680 663.67L1681.25 663.67L1681.25 666.48L1683 666.48L1683 669.77L1684.75 669.77L1684.75 672.58L1686 672.58L1686 676.6zM1687 676.6L1687 675.81L1688 675.81L1688 676.6z"/><path fill="#fff" fill-opacity="0.3" d="M1676 669.5h1v7.6h-1zM1682 666.69h1v10.41h-1z"/>
<path fill="#1fab7d" d="M1721 676.6L1721 675.17L1722 675.17L1722 672.12L1723.75 672.12L1723.75 670.62L1725 670.62L1725 676.6zM1726 676.6L1726 673.98L1727.25 673.98L1727.25 675.81L1728 675.81L1728 676.6z"/><path fill="#fff" fill-opacity="0.3" d="M1722 672h1v5.1h-1z"/>
<path fill="#f75d60" d="M1467.5 676.6L1467.5 678.12L1468 678.12L1468 676.6zM1469 676.6L1469 682.5L1470 682.5L1470 685.62L1471.5 685.62L1471.5 689.38L1473 689.38L1473 693.5L1474 693.5L1474 676.6zM1475 676.6L1475 701.09L1476.25 701.09L1476.25 706.72L1478 706.72L1478 713.28L1479.75 713.28L1479.75 712.6L1481 712.6L1481 676.6zM1482 676.6L1482 702.27L1483.25 702.27L1483.25 699.45L1485 699.45L1485 695.31L1486.75 695.31L1486.75 692.88L1488 692.88L1488 676.6zM1489 676.6L1489 692.5L1490 692.5L1490 695.62L1491.5 695.62L1491.5 698.59L1493 698.59L1493 700.62L1494 700.62L1494 676.6zM1495 676.6L1495 703.67L1496.25 703.67L1496.25 706.48L1498 706.48L1498 709.77L1499.75 709.77L1499.75 713.44L1501 713.44L1501 676.6zM1502 676.6L1502 717.81L1503 717.81L1503 719.69L1504.5 719.69L1504.5 721.5L1506 721.5L1506 722.75L1507 722.75L1507 676.6zM1508 676.6L1508 724.88L1509.25 724.88L1509.25 726.95L1511 726.95L1511 736.8L1512.75 736.8L1512.75 746.09L1514 746.09L1514 676.6zM1515 676.6L1515 759.38L1516 759.38L1516 767.66L1517.5 767.66L1517.5 778.59L1519 778.59L1519 790.31L1520 790.31L1520 676.6zM1521 676.6L1521 803.02L1522.25 803.02L1522.25 808.02L1524 808.02L1524 800.7L1525.75 800.7L1525.75 803.52L1527 803.52L1527 676.6zM1528 676.6L1528 792.89L1529.25 792.89L1529.25 797.58L1531 797.58L1531 802.19L1532.75 802.19L1532.75 804.19L1534 804.19L1534 676.6zM1535 676.6L1535 805.25L1536 805.25L1536 805.88L1537.5 805.88L1537.5 805.88L1539 805.88L1539 805.25L1540 805.25L1540 676.6zM1541 676.6L1541 804.19L1542.25 804.19L1542.25 804.06L1544 804.06L1544 804.94L1545.75 804.94L1545.75 804.31L1547 804.31L1547 676.6zM1548 676.6L1548 800.94L1549.25 800.94L1549.25 797.58L1551 797.58L1551 794.3L1552.75 794.3L1552.75 791.48L1554 791.48L1554 676.6zM1555 676.6L1555 787.5L1556 787.5L1556 784.38L1557.5 784.38L1557.5 779.69L1559 779.69L1559 775L1560 775L1560 676.6zM1561 676.6L1561 766.88L1562.25 766.88L1562.25 759.38L1564 759.38L1564 746.04L1565.75 746.04L1565.75 731.25L1567 731.25L1567 676.6zM1568 676.6L1568 710L1569 710L1569 698.12L1570.5 698.12L1570.5 688.96L1572 688.96L1572 690L1573 690L1573 676.6zM1574 676.6L1574 711.25L1575.25 711.25L1575.25 725.21L1577 725.21L1577 733.59L1578.75 733.59L1578.75 735.94L1580 735.94L1580 676.6zM1581 676.6L1581 740.62L1582 740.62L1582 742.19L1583.5 742.19L1583.5 743.28L1585 743.28L1585 744.5L1586 744.5L1586 676.6zM1587 676.6L1587 747.62L1588.25 747.62L1588.25 749.12L1590 749.12L1590 747.38L1591.75 747.38L1591.75 742.88L1593 742.88L1593 676.6zM1594 676.6L1594 741.44L1595.25 741.44L1595.25 741.81L1597 741.81L1597 744L1598.75 744L1598.75 750L1600 750L1600 676.6zM1601 676.6L1601 754.75L1602 754.75L1602 756.38L1603.5 756.38L1603.5 757.12L1605 757.12L1605 757.75L1606 757.75L1606 676.6zM1607 676.6L1607 758.69L1608.25 758.69L1608.25 757.94L1610 757.94L1610 773.54L1611.75 773.54L1611.75 760.94L1613 760.94L1613 676.6zM1614 676.6L1614 758.56L1615.25 758.56L1615.25 759.88L1617 759.88L1617 761.44L1618.75 761.44L1618.75 762.19L1620 762.19L1620 676.6zM1621 676.6L1621 762.5L1622 762.5L1622 756.25L1623.5 756.25L1623.5 745L1625 745L1625 736.88L1626 736.88L1626 676.6zM1627 676.6L1627 725.16L1628.25 725.16L1628.25 719.69L1630 719.69L1630 715.31L1631.75 715.31L1631.75 710.7L1633 710.7L1633 676.6zM1634 676.6L1634 705.94L1635 705.94L1635 703.5L1636.5 703.5L1636.5 700.5L1638 700.5L1638 698.5L1639 698.5L1639 676.6zM1640 676.6L1640 695.31L1641.25 695.31L1641.25 693.06L1643 693.06L1643 691.81L1644.75 691.81L1644.75 690.88L1646 690.88L1646 676.6zM1647 676.6L1647 688.75L1648 688.75L1648 687.5L1649.5 687.5L1649.5 686L1651 686L1651 684.75L1652 684.75L1652 676.6zM1653 676.6L1653 682.96L1654.25 682.96L1654.25 681.9L1656 681.9L1656 680.5L1657.75 680.5L1657.75 679.56L1659 679.56L1659 676.6zM1660 676.6L1660 678.36L1661.25 678.36L1661.25 677.73L1662 677.73L1662 676.6z"/><path fill="#fff" fill-opacity="0.3" d="M1471 676.1h1v11.9h-1zM1478 676.1h1v36.27h-1zM1484 676.1h1v23.15h-1zM1491 676.1h1v21.59h-1zM1497 676.1h1v31.59h-1zM1504 676.1h1v45.02h-1zM1511 676.1h1v59.09h-1zM1517 676.1h1v97.21h-1zM1524 676.1h1v124.4h-1zM1530 676.1h1v123.15h-1zM1537 676.1h1v130.65h-1zM1544 676.1h1v129.15h-1zM1550 676.1h1v121.27h-1zM1557 676.1h1v106.9h-1zM1563 676.1h1v81.9h-1zM1570 676.1h1v16.9h-1zM1577 676.1h1v57.52h-1zM1583 676.1h1v67.21h-1zM1590 676.1h1v72.9h-1zM1596 676.1h1v66.4h-1zM1603 676.1h1v81.15h-1zM1610 676.1h1v91.07h-1zM1616 676.1h1v84.65h-1zM1623 676.1h1v74.4h-1zM1629 676.1h1v43.15h-1zM1636 676.1h1v26.4h-1zM1643 676.1h1v16.4h-1zM1649 676.1h1v11.15h-1zM1656 676.1h1v5.2h-1z"/>
<path fill="#f75d60" d="M1690 676.6L1690 678.06L1691 678.06L1691 679.19L1692 679.19L1692 676.6zM1693 676.6L1693 681.58L1694.25 681.58L1694.25 680.71L1696 680.71L1696 678.71L1697.75 678.71L1697.75 678.13L1699 678.13L1699 676.6zM1700 676.6L1700 678.45L1701 678.45L1701 678.64L1702.5 678.64L1702.5 678.86L1704 678.86L1704 679.05L1705 679.05L1705 676.6zM1706 676.6L1706 679.37L1707.25 679.37L1707.25 680.12L1709 680.12L1709 681.88L1710.75 681.88L1710.75 683.38L1712 683.38L1712 676.6zM1713 676.6L1713 683.17L1714 683.17L1714 681.5L1715.5 681.5L1715.5 680L1717 680L1717 679.17L1718 679.17L1718 676.6zM1719 676.6L1719 677.83L1720 677.83L1720 676.6z"/><path fill="#fff" fill-opacity="0.3" d="M1695 676.1h1v4.69h-1zM1702 676.1h1v3.15h-1zM1709 676.1h1v5.9h-1zM1715 676.1h1v4.9h-1z"/>
<path fill="#f75d60" d="M1729 676.6L1729 680.78L1730.75 680.78L1730.75 685.38L1732 685.38L1732 676.6zM1733 676.6L1733 686.38L1734 686.38L1734 684.81L1735.5 684.81L1735.5 686.06L1737 686.06L1737 686.5L1738 686.5L1738 676.6zM1739 676.6L1739 685.94L1740.25 685.94L1740.25 688.12L1742 688.12L1742 689.88L1743.75 689.88L1743.75 691.72L1745 691.72L1745 676.6zM1746 676.6L1746 694.12L1747.25 694.12L1747.25 695.12L1749 695.12L1749 695.48L1750.75 695.48L1750.75 700.31L1752 700.31L1752 676.6zM1753 676.6L1753 712.5L1754 712.5L1754 716.67L1755.5 716.67L1755.5 720L1757 720L1757 722.5L1758 722.5L1758 676.6zM1759 676.6L1759 724.62L1760.25 724.62L1760.25 725.56L1762 725.56L1762 726.44L1763.75 726.44L1763.75 727.19L1765 727.19L1765 676.6zM1766 676.6L1766 726.75L1767 726.75L1767 726.5L1768.5 726.5L1768.5 728L1770 728L1770 729L1771 729L1771 676.6zM1772 676.6L1772 730.25L1773.25 730.25L1773.25 733.25L1775 733.25L1775 737.62L1776.75 737.62L1776.75 742.12L1778 742.12L1778 676.6zM1779 676.6L1779 744.69L1780 744.69L1780 740.78L1781.5 740.78L1781.5 739.22L1783 739.22L1783 740.31L1784 740.31L1784 676.6zM1785 676.6L1785 746.56L1786.25 746.56L1786.25 750.31L1788 750.31L1788 754.69L1789.75 754.69L1789.75 757.31L1791 757.31L1791 676.6zM1792 676.6L1792 756.19L1793.25 756.19L1793.25 755.44L1795 755.44L1795 754.56L1796.75 754.56L1796.75 753.81L1798 753.81L1798 676.6zM1799 676.6L1799 750.75L1800 750.75L1800 748.12L1801.5 748.12L1801.5 743.96L1803 743.96L1803 738.75L1804 738.75L1804 676.6zM1805 676.6L1805 730.62L1806.25 730.62L1806.25 726.12L1808 726.12L1808 723.62L1809.75 723.62L1809.75 723.67L1811 723.67L1811 676.6zM1812 676.6L1812 727.71L1813.25 727.71L1813.25 721.56L1815 721.56L1815 712.38L1816.75 712.38L1816.75 707.88L1818 707.88L1818 676.6zM1819 676.6L1819 702.5L1820 702.5L1820 699.75L1821.5 699.75L1821.5 696.75L1823 696.75L1823 698.25L1824 698.25L1824 676.6zM1825 676.6L1825 702.31L1826.25 702.31L1826.25 704.86L1828 704.86L1828 705.91L1829.75 705.91L1829.75 706.44L1831 706.44L1831 676.6zM1832 676.6L1832 707.5L1833 707.5L1833 708.12L1834.5 708.12L1834.5 708.5L1836 708.5L1836 707.25L1837 707.25L1837 676.6zM1838 676.6L1838 701.75L1839.25 701.75L1839.25 696.12L1841 696.12L1841 694.38L1842.75 694.38L1842.75 697.25L1844 697.25L1844 676.6zM1845 676.6L1845 705.25L1846 705.25L1846 709L1847.5 709L1847.5 712.75L1849 712.75L1849 715.25L1850 715.25L1850 676.6zM1851 676.6L1851 719.5L1852.25 719.5L1852.25 722.5L1854 722.5L1854 726L1855.75 726L1855.75 733.12L1857 733.12L1857 676.6zM1858 676.6L1858 736.64L1859.25 736.64L1859.25 731.88L1861 731.88L1861 724.3L1862.75 724.3L1862.75 721.48L1864 721.48L1864 676.6zM1865 676.6L1865 723.33L1866 723.33L1866 730.75L1867.5 730.75L1867.5 733.75L1868 733.75L1868 676.6z"/><path fill="#fff" fill-opacity="0.3" d="M1735 676.1h1v9.52h-1zM1742 676.1h1v13.9h-1zM1748 676.1h1v19.6h-1zM1755 676.1h1v42.9h-1zM1761 676.1h1v50.15h-1zM1768 676.1h1v51.65h-1zM1775 676.1h1v60.9h-1zM1781 676.1h1v64.09h-1zM1788 676.1h1v78.15h-1zM1794 676.1h1v79.65h-1zM1801 676.1h1v70.65h-1zM1808 676.1h1v48.4h-1zM1814 676.1h1v43.15h-1zM1821 676.1h1v22.65h-1zM1827 676.1h1v29.9h-1zM1834 676.1h1v32.9h-1zM1841 676.1h1v19.15h-1zM1847 676.1h1v35.65h-1zM1854 676.1h1v49.65h-1zM1860 676.1h1v54.4h-1zM1867 676.1h1v57.4h-1z"/>
<rect x="1662.4" y="647.5" width="1.6" height="29" fill="#1fab7d"/>
<rect x="1610.8" y="676.6" width="1.6" height="108" fill="#f75d60"/>
<path fill="#1fab7d" d="M1380.4 676.6V449h1.6V676.6zM1383.7 676.6V449h1.6V676.6z"/>
<path fill="#f75d60" d="M1437.6 676.6h1.8v5h-1.8zM1442 676.6h1.6v3h-1.6zM1445 676.6h3.4v5.5h-3.4z"/>
<path d="M157 733.75 159.5 756.25 162.5 761.25 166.5 766.25 168.75 757.5 171.25 760 173.75 752 175.75 751.25 177.5 760 178.75 776.25 180.5 785 183.75 787.5 184.5 830 185.25 910 186.5 875 187.5 892.5 189 882.5 191.5 901.25 193 890 195 890 196.5 847.5 199 848 201 850 202 862.5 205 827.5 208.75 828 211.25 842.5 213.75 858.75 215.5 840 218 835 220.5 826.25 223 825 225.5 822 227.5 810 229.5 807 231.5 805.5 233.5 812.5 234.5 821.25 236.5 822.5 238 818.75 240.5 823.75 242.5 830.5 244.5 813.75 247.5 808 249.5 812.5 251 821.25 253 822 255 807.5 257 798.75 260 795 262.5 791.25 264.5 789.5 265.5 765 266.5 760 269.5 757.5 271.5 755 274.5 756.25 276.5 747.5 278.5 735 280 728.25 282.5 736.25 284.5 757.5 286.5 765.75 288.5 755 290.5 741.25 291.5 735 293 743.75 295 737.5 297.5 734.5 300 735.5 302 745 303.5 750 305.5 748 308 760 311.5 759.5 313.5 747.5 315 740 318 738.75 319.5 742 321.5 723.75 322.5 738.75 325 733.75 327 736.25 330 733.75 333 733 336.5 731.25 338 745 340 742 343 742.5 346.5 740 349.5 742.5 352 747 355 746.25 357 737.5 359 738.75 361.5 746.25 365.5 752.5 368 748.75 371.5 748 374 751.25 378 752 381 747.5 384 743 387.5 747.5 391 747 394.5 748.75 398 750.5 402.5 749.5 404.5 748.75 406.5 742.5 408.5 740 411.5 738.75 413.5 731.25 415 715 416.5 704.5 419 702 421 698.75 423.5 688 426 702.5 428 698.75 430.5 687 435 686.25 438.5 685.5 441 694.5 444 688 447.5 685 451 677.5 454.5 686.25 457.5 689.5 460.5 687 462.5 686.25 464.5 693.75 467.5 696.25 470.5 692.5 473.5 688 476 683 477.5 690 479 712.5 480.5 721.25 482.5 716.25 484.5 722.5 486.5 719.5 489 723.75 491.5 720 494 718 496.5 719.5 499 710 501.5 704.5 504 705.5 506.5 702 509 706.25 510.5 715 512.5 714.5 513.5 722.5 515 710.5 518 709.5 521 710 524 707 527 711.25 529.5 714.5 532.5 713 534.5 708.75 536.5 712.5 539 707 541.5 700 544 694.5 546 692 548.5 693 550.5 693.75 552.5 697 555.5 694.5 558 687.5 560 677.5 562.5 660 565 652.5 567.5 653 571 650 573 653.75 576 647.5 579 650 581.5 646.25 584 633.75 586 617.5 588.5 628.75 591 618.75 593.5 621.25 596 612.5 598.5 605 601 607.5 603 610 605.5 596.25 607.5 585 610 583.75 612 572.5 614.5 573.75 618 566.25 620 575 622 593.75 624 592.5 626 575 628 558.75 630.5 567.5 633 562.5 635 566.25 638 563.75 640.5 568.75 642.5 575 645 576.25 646.5 579.5 648.5 570 650.5 566.25 653 562.5 655 540 656.5 522.5 658.5 515 660 510 663.5 515 666 513.75 668.5 505 671 485 674 480 676.5 475 678.5 463.75 681.5 457.5 683.5 437.5 685.5 430 687 433.75 689 415 691 395 693 377.5 695 375.5 697 382.5 699 405 700.5 421.25 702.5 395 704 385.5 706 402.5 708.5 407.5 711 402.5 713.5 408.75 715 430 716 445 717.5 428.75 719.5 433.75 722 432 724 431.25 725.5 448.75 727 430 729 418.75 731 420 733 426.25 735 416.25 737 400 739 396.25 741.5 387.5 744 385 745.5 350 747 343.75 749 350 751 336.25 753.5 338.75 756 332.5 758 331.25 760 322.5 761.5 313.75 763.5 312.5 765 297.5 767.5 289.5 769 300 771 325 773 330 775 338.75 777.5 346.25 779.5 349.5 781.5 326.25 783 331.25 784.5 321.25 786.5 331.25 789 330 791 322.5 793 313.75 795 302.5 797 293.75 799 287.5 800.5 281.25 802 273.75 803.5 280 805 296.25 807 291.25 808.5 283.75 811 287.5 813 285 815 290 817 300 819 305 821.5 315 823.5 298.75 825.5 296.25 827.5 291.25 830 283.75 832.5 282.5 835 281.25 837 287.5 839 283.75 841.5 285 843.5 293.75 845.5 286.25 847.5 283.75 849.5 278.75 851.5 277.5 853.5 263.75 856 265 858 266.25 859.5 272.5 861 276.25 862.5 291.25 864.5 296.25 866 294.5 868 305 870 315 872 322.5 874 328.75 875.5 313.75 877 302.5 879.5 300.5 881 305 882.5 288 885 290 887 293.75 889 307.5 890.5 292.5 892.5 291.25 894.5 285.5 896 283.75 898 288.75 899.5 293.75 901 295 902.5 310 904 323.75 906 326.25 908 340 910 347.5 912 360 913.5 370 915 397.5 916.5 377.5 918 395 920 402.5 921.5 412.5 923 392.5 925 386.25 927 390 929.5 400 931.5 413.75 933.5 410 935.5 402.5 937.5 395 939.5 386.25 941.5 390 944 393.75 946.5 400 949 402.5 951.5 398.75 953.5 400 955 408.75 956.5 390 958.5 377.5 960.5 380 962.5 390 964.5 396.25 966 407.5 968 408.75 970 422.5 971.5 430 973 420 974.5 416.25 976.5 438.75 978.5 430 980 420 982 415 984 407.5 986 415 987.5 422.5 989.5 417.5 991.5 412 993.5 420 995.5 421.25 997.5 423.75 999.5 428.75 1001.5 422.5 1004 420 1006 426.25 1008 430 1010 435 1012 440 1014 438 1016 437.5 1017.5 447.5 1019 453.75 1020.5 437.5 1022.5 430 1025 420 1027 412.5 1029 395 1031 383.75 1033 380 1035 367.5 1037 370 1039 380 1041 387.5 1042.5 392.5 1044.5 380 1046.5 370 1048.5 355 1050.5 352.5 1052.5 343.75 1054.5 347.5 1056.5 352.5 1058 343.75 1060 336.25 1062 340 1064 345 1066 352 1068 351.25 1070 337.5 1072 328.75 1074 327.5 1076 327 1078 336.25 1080 330 1081.5 340 1083 330 1085.5 329.5 1088 338.75 1090 336.25 1092 330 1094 326.25 1096.5 323.75 1099 312 1100.5 330 1102 341.25 1104 345 1106 351.25 1108 346.25 1110 351.25 1112 345 1114 333.75 1116 335 1118 337.5 1119.5 333 1121.5 340 1123 360 1125 376.25 1126.5 357.5 1128 352 1130 362.5 1132 360 1134 362.5 1136 372.5 1137.5 373.75 1139.5 365 1141 342.5 1142.5 335 1145 332.5 1147 325 1149 302.5 1150 305 1152 297.5 1154 302.5 1156 298.75 1158 290 1160 292.5 1162 288.75 1164 280 1165.5 272.5 1167.5 271.25 1169.5 270 1171.5 265 1174 254.5 1175.5 265 1177 275 1179 273 1180.5 274.5 1182.5 267.5 1184.5 280 1186 283.75 1187.5 276.25 1189.5 270 1191.5 271.25 1193.5 273.75 1196 266.25 1198 268.75 1200 273 1202 272.5 1204 262.5 1206 248.75 1208 252.5 1210 258.75 1212.5 260 1214.5 257 1216.5 261.25 1218.5 272.5 1220 277.5 1221.5 283.75 1223 292 1225 280 1227 283.75 1229 293.75 1231 288.75 1233 285 1234.5 283.75 1236.5 305 1238.5 297.5 1240.5 288.75 1243 290 1245 292 1247 300 1248.5 315 1250 328.75 1252 325 1254 321.25 1256 322.5 1258 332.5 1260 337.5 1262 325 1264 327.5 1265.5 340 1267 330 1269 335 1271.5 342.5 1274 340 1276.5 338.75 1278.5 330 1280 331.25 1282 321.25 1284.5 320 1287.5 320.5 1289.5 330 1291.5 341.25 1293.5 342.5 1295.5 337.5 1297.5 337 1299.5 341.25 1301.5 347.5 1303 355 1305 362.5 1307 370 1309.5 368.75 1312 367.5 1314 360 1315.5 357.5 1317.5 362.5 1319.5 360.5 1322 362.5 1324.5 366.25 1327 368.75 1329 377.5 1330.5 400 1332 413.75 1334 403.75 1336.5 401.25 1339 400 1341.5 395 1344 392.5 1346.5 393.75 1348.5 388.75 1350 400 1352 400 1353.5 377.5 1355 370 1357 365 1359 357.5 1361 354.5 1363 355 1365 362.5 1367 366.25 1369 365 1371 355 1372.5 353 1374 360 1375.5 372.5 1377 378.75 1379 382.5 1380.5 390 1382.5 399.5 1384.5 395 1386.5 392.5 1388.5 386.25 1390.5 386.25 1392 395 1393.5 370 1395 355 1397 354.5 1398.5 360 1400 375 1402 385 1404 388.75 1406 392.5 1408 377.5 1409.5 368.75 1411 380 1413 386.25 1415 390 1416.5 393.75 1418.5 385 1420.5 375 1422.5 372.5 1424.5 370 1426.5 367 1428.5 372.5 1430.5 366.25 1432.5 361.25 1434.5 356.25 1436.5 352.5 1438.5 345 1440.5 340 1443 337 1445 341.25 1447 346.25 1449 343.75 1451 342.5 1453 342 1455 347.5 1456.5 357.5 1458.5 360 1460.5 365 1462.5 366.25 1464 375 1465.5 382.5 1467 376.25 1469 373.75 1471 380 1473 376.25 1475 380 1477 373.75 1479 371.25 1481 375 1483 380 1485 381.25 1487 383.75 1488.5 377.5 1490 390 1491.5 392.5 1493.5 382.5 1495.5 387.5 1497.5 395 1499.5 392.5 1501.5 393.75 1503.5 382.5 1505 396.25 1507 405 1509 410 1510.5 420 1511.5 440 1513 447.5 1514.5 451.25 1515.5 462 1517.5 460 1519.5 453.75 1521 447.5 1522.5 442.5 1524 447.5 1525.5 455 1527.5 462.5 1529 451.25 1530.5 456.25 1532.5 450 1534.5 458 1536.5 458.75 1538.5 456.25 1540.5 460 1542.5 464.5 1544.5 458.75 1546.5 453.75 1548.5 441.25 1550 446.25 1551.5 455 1553.5 452.5 1555.5 454.5 1557.5 451.25 1559.5 442.5 1561.5 443.75 1563.5 450.5 1565.5 455 1567.5 465 1569 475 1570.5 490 1571.5 520 1572.5 527 1574 523.75 1575.5 540 1577 550 1578.5 560 1579.5 567 1580.5 550 1582 547.5 1584 545 1585.5 545 1586.5 554.5 1588 540 1590 538 1591.5 536.25 1593 540 1595 545 1597 550 1599 555 1601 560 1603 563.75 1605 563 1606.5 552.5 1608.5 550 1610 545 1611.5 535 1613 532.5 1614.5 533.75 1616 540 1617.5 550 1619 557.5 1620 562.5 1621.5 553.75 1623 547.5 1624.5 543.75 1626.5 540 1628 543 1629.5 532.5 1631 522.5 1632.5 515 1634.5 515 1636.5 517.5 1638.5 522.5 1640 525 1641.5 533.75 1643 539.5 1644.5 527.5 1646 515 1647.5 510 1649.5 511.25 1652 513.75 1654 516.25 1656 518.75 1658 522 1660 520 1662 515 1663.5 517.5 1665 511.25 1666.5 515 1668.5 508.75 1670.5 506.25 1673 503.75 1675 504.5 1677 506.25 1679 510 1681 515 1682.5 517.5 1684 542.5 1685.5 538.75 1687.5 536.25 1689.5 536.25 1691.5 534.5 1693.5 536.25 1695.5 547.5 1697.5 553.75 1699 557.5 1701 552.5 1703 555 1705 553.75 1707 555 1709 554.5 1711 556.25 1713 565 1714.5 568.75 1716 563.75 1717.5 557.5 1719 545 1720.5 535 1722.5 532.5 1724.5 527 1726 540 1727 550 1729 553.75 1730.5 557.5 1732.5 552.5 1734.5 560 1736.5 562.5 1738 567.5 1739.5 572.5 1741 562.5 1743 566.25 1745 570 1747 565 1749 562.5 1751 564.5 1753 561.25 1755 560 1757 562.5 1759 565 1761 550 1763 552.5 1765 557.5 1767 561.25 1769 562 1771 565 1773 566.25 1775 562.5 1777 563.75 1779 565.5 1781 562.5 1783 559.5 1785 563.75 1787 566.25 1789 566.25 1791 565 1793 562 1794.5 562.5 1796 555 1797.5 545 1799.5 543.75 1801 548.75 1803 543.75 1805 545 1807 548 1809 547.5 1811 550 1812.5 541.25 1814.5 538.75 1816.5 540 1818 545 1819.5 555 1820.5 570 1821.5 595 1822.5 612.5 1823.5 587.5 1825 595 1826.5 600 1828 605 1829.5 600 1831.5 597 1833.5 598.75 1835.5 598 1837.5 598.75 1839.5 600 1841 610 1842.5 613 1844 607.5 1845.5 600 1847.5 601.25 1849.5 602.5 1851.5 603.75 1853.5 606.25 1855 602.5 1856.5 596.25 1858 592.5 1860 594.5 1862 593 1864 595 1866 593.75 1868 593" fill="none" stroke="#4a4a4a" stroke-width="2.6" stroke-linejoin="round" stroke-linecap="round"/>
<!-- axes -->
<path d="M147.5 206.5V957.4" stroke="#3a3a3a" stroke-width="2.9" stroke-linecap="round" fill="none"/>
<path d="M1878.1 206.5V957.2" stroke="#219469" stroke-width="3" stroke-linecap="round" fill="none"/>
<!-- dotted levels -->
<g stroke="#222" stroke-width="1.5" stroke-dasharray="2.6 2.4" fill="none">
<path d="M147 725.5H1881M147 771.8H1881M147 818.7H1881"/>
</g>
<g font-size="17" font-weight="bold" font-style="italic" fill="#111" stroke="#111" stroke-width="0.45">
<text x="971.4" y="719.6" textLength="85.6" lengthAdjust="spacingAndGlyphs">-$3B/mth</text>
<text x="971.4" y="766.3" textLength="85.6" lengthAdjust="spacingAndGlyphs">-$6B/mth</text>
<text x="971.4" y="812.8" textLength="85.6" lengthAdjust="spacingAndGlyphs">-$9B/mth</text>
</g>
<!-- vertical marker -->
<path d="M1444 290V937" stroke="#c4245b" stroke-width="1.7" stroke-dasharray="3 3.6" fill="none"/>
<!-- annotations -->
<rect x="1326" y="207" width="240" height="71" fill="#fff"/>
<g font-size="29.5" font-weight="bold">
<text y="235.4" fill="#f0185a"><tspan x="1332.7" font-size="28.5" textLength="77.6" lengthAdjust="spacingAndGlyphs">2022</tspan><tspan x="1409.9">年</tspan><tspan x="1440.3" font-size="28.5" textLength="18.8" lengthAdjust="spacingAndGlyphs">3</tspan><tspan x="1459.4">月</tspan><tspan x="1489.3" font-size="28.5" textLength="38" lengthAdjust="spacingAndGlyphs">30</tspan><tspan x="1528.5">日</tspan></text>
<text x="1326.7" y="271.4" fill="#f0185a" textLength="238.3">稳定币供应量峰值</text>
<text x="330.8" y="469.7" fill="#18a972" textLength="149.4">稳定币供应</text>
<text y="505.8" fill="#18a972"><tspan x="253.5">扩张到</tspan><tspan x="343.4" font-size="28.5" textLength="76" lengthAdjust="spacingAndGlyphs">2022</tspan><tspan x="419.2">年</tspan><tspan x="449.6" font-size="28.5" textLength="19.2" lengthAdjust="spacingAndGlyphs">3</tspan><tspan x="470">月</tspan><tspan x="499.5">为止</tspan></text>
<text x="1582.7" y="650.2" fill="#f0185a" textLength="180.3">稳定币净流出</text>
</g>
<!-- axis labels -->
<g font-size="15.2" fill="#858585" text-anchor="end" lengthAdjust="spacingAndGlyphs">
<text x="135.6" y="276" textLength="35.8" lengthAdjust="spacingAndGlyphs">$60k</text>
<text x="135.6" y="551.3" textLength="35.8" lengthAdjust="spacingAndGlyphs">$20k</text>
<text x="135.6" y="781.2" textLength="26.8" lengthAdjust="spacingAndGlyphs">$8k</text>
<text x="135.6" y="955.6" textLength="26.8" lengthAdjust="spacingAndGlyphs">$4k</text>
</g>
<g font-size="15.2" fill="#858585">
<text x="1890.2" y="391.9" textLength="29.5" lengthAdjust="spacingAndGlyphs">18B</text>
<text x="1891" y="579.5" textLength="20.4" lengthAdjust="spacingAndGlyphs">6B</text>
<text x="1890" y="766.9" textLength="26.4" lengthAdjust="spacingAndGlyphs">-6B</text>
<text x="1890" y="955.9" textLength="36.4" lengthAdjust="spacingAndGlyphs">-18B</text>
</g>
<g font-size="17.6" fill="#5a5a5a" text-anchor="middle">
<text x="219" y="985">Apr '20</text>
<text x="372" y="985">Jul '20</text>
<text x="527" y="985">Oct '20</text>
<text x="681" y="985">Jan '21</text>
<text x="833" y="985">Apr '21</text>
<text x="986" y="985">Jul '21</text>
<text x="1141" y="985">Oct '21</text>
<text x="1296" y="985">Jan '22</text>
<text x="1448" y="985">Apr '22</text>
<text x="1601" y="985">Jul '22</text>
<text x="1756" y="985">Oct '22</text>
</g>
<text x="45" y="1098" font-size="19" fill="#8a8a8a" textLength="355.2" lengthAdjust="spacingAndGlyphs">© 2022 Glassnode. All Rights Reserved.</text>
<text x="1792" y="1101" font-size="33.6" fill="#111" stroke="#111" stroke-width="0.7" textLength="168.2" lengthAdjust="spacingAndGlyphs">glassnode</text>
</svg>
</body>
</html>
